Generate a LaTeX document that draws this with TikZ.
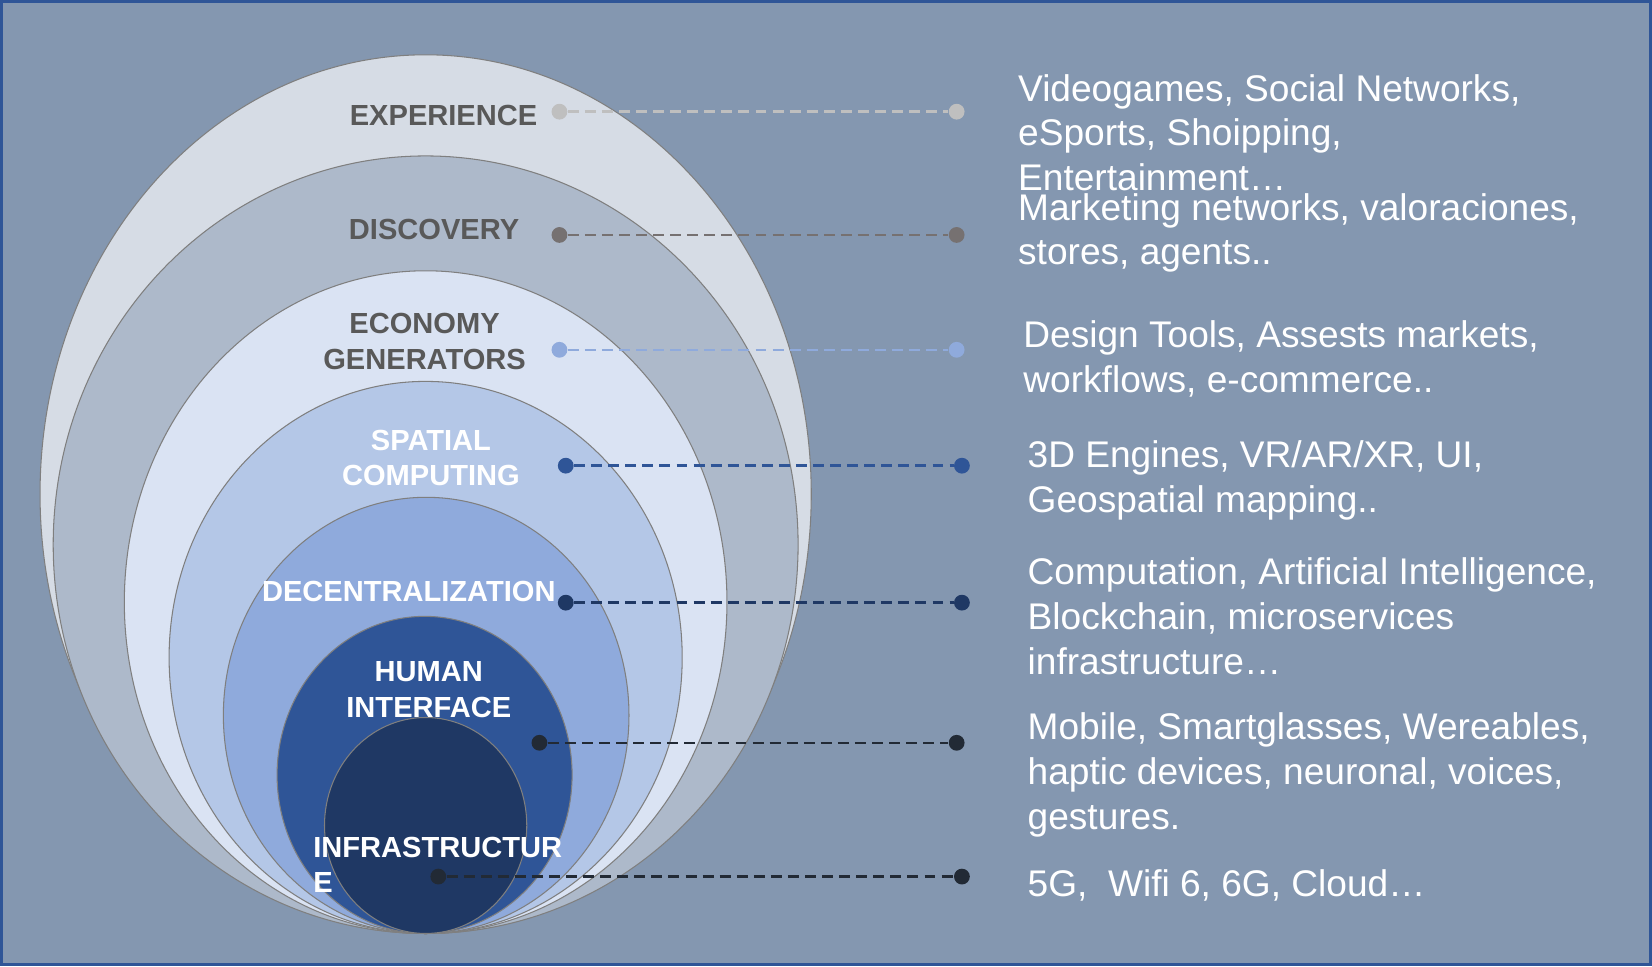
\documentclass[tikz,border=0pt]{standalone}
\usepackage{fontspec}
\setmainfont{Liberation Sans}
\usetikzlibrary{shapes.geometric}
\definecolor{bg}{HTML}{8497B0}
\definecolor{framecol}{HTML}{2F5597}
\definecolor{cA}{HTML}{D6DCE5}
\definecolor{cB}{HTML}{ADB9CA}
\definecolor{cC}{HTML}{DAE3F3}
\definecolor{cD}{HTML}{B4C7E7}
\definecolor{cE}{HTML}{8FAADC}
\definecolor{cF}{HTML}{2F5597}
\definecolor{cG}{HTML}{1F3864}
\definecolor{lbldark}{HTML}{595959}
\definecolor{dExp}{HTML}{BFBFBF}
\definecolor{dDis}{HTML}{767171}
\definecolor{dEco}{HTML}{8FAADC}
\definecolor{dSpa}{HTML}{2F5597}
\definecolor{dDec}{HTML}{1F3864}
\definecolor{dHum}{HTML}{222A35}
\definecolor{ringline}{HTML}{7F7F7F}
\tikzset{
  ring/.style={draw=ringline, line width=0.5pt},
  dot/.style={circle, minimum size=7.5pt, inner sep=0pt, draw=none},
  link/.style={line width=1.15pt, dash pattern=on 5.2pt off 2.9pt},
  lbl/.style={font=\fontsize{13.8pt}{16.75pt}\selectfont\bfseries, align=center, inner sep=0pt},
  desc/.style={font=\fontsize{17.6pt}{21.25pt}\selectfont, text=white, align=left, anchor=north west, inner sep=0pt}
}
\begin{document}
\begin{tikzpicture}[x=0.5pt,y=0.5pt]
\useasboundingbox (0,0) rectangle (1568,-917);
\fill[bg] (0,0) rectangle (1568,-917);
\draw[framecol, line width=1.3pt] (1.3,-1.3) rectangle (1566.7,-915.7);

% nested ellipses
\filldraw[ring, fill=cA] (404,-469) ellipse [x radius=183pt, y radius=208.5pt];
\filldraw[ring, fill=cB] (404,-517) ellipse [x radius=176.75pt, y radius=184.5pt];
\filldraw[ring, fill=cC] (404,-571.5) ellipse [x radius=143pt, y radius=157.25pt];
\filldraw[ring, fill=cD] (404,-624) ellipse [x radius=121.75pt, y radius=131pt];
\filldraw[ring, fill=cE] (404.5,-679) ellipse [x radius=96.25pt, y radius=103.5pt];
\filldraw[ring, fill=cF] (403,-735.5) ellipse [x radius=70pt, y radius=75.25pt];
\filldraw[ring, fill=cG] (404,-783.5) ellipse [x radius=48pt, y radius=51.25pt];

% labels
\node[lbl, text=lbldark] (lExp) at (421,-110) {EXPERIENCE};
\node[lbl, text=lbldark] (lDis) at (412,-218) {DISCOVERY};
\node[lbl, text=lbldark] (lEco) at (403,-324) {ECONOMY\\GENERATORS};
\node[lbl, text=white] (lSpa) at (409,-434.5) {SPATIAL\\COMPUTING};
\node[lbl, text=white] (lDec) at (388,-561) {DECENTRALIZATION};
\node[lbl, text=white] (lHum) at (407,-654.5) {HUMAN\\INTERFACE};
\node[lbl, text=white, align=left, anchor=west] (lInf) at (297,-821) {INFRASTRUCTUR\\E};

% connector dots
\node[dot, fill=dExp] (a1) at (531,-106) {};
\node[dot, fill=dExp] (b1) at (908,-106) {};
\node[dot, fill=dDis] (a2) at (531,-223) {};
\node[dot, fill=dDis] (b2) at (908,-223) {};
\node[dot, fill=dEco] (a3) at (531,-332) {};
\node[dot, fill=dEco] (b3) at (908,-332) {};
\node[dot, fill=dSpa] (a4) at (537,-442) {};
\node[dot, fill=dSpa] (b4) at (913,-442) {};
\node[dot, fill=dDec] (a5) at (537,-572) {};
\node[dot, fill=dDec] (b5) at (913,-572) {};
\node[dot, fill=dHum] (a6) at (512,-705) {};
\node[dot, fill=dHum] (b6) at (908,-705) {};
\node[dot, fill=dHum] (a7) at (416,-832) {};
\node[dot, fill=dHum] (b7) at (913,-832) {};

\draw[link, dExp] (a1) -- (b1);
\draw[link, dDis] (a2) -- (b2);
\draw[link, dEco] (a3) -- (b3);
\draw[link, dSpa] (a4) -- (b4);
\draw[link, dDec] (a5) -- (b5);
\draw[link, dHum] (a6) -- (b6);
\draw[link, dHum] (a7) -- (b7);

% descriptions
\node[desc] (t1) at (966,-70) {Videogames, Social Networks,\\eSports, Shoipping,\\Entertainment\dots};
\node[desc] (t2) at (966,-183) {Marketing networks, valoraciones,\\stores, agents..};
\node[desc] (t3) at (971,-304) {Design Tools, Assests markets,\\workflows, e-commerce..};
\node[desc] (t4) at (975,-418) {3D Engines, VR/AR/XR, UI,\\Geospatial mapping..};
\node[desc] (t5) at (975,-529) {Computation, Artificial Intelligence,\\Blockchain, microservices\\infrastructure\dots};
\node[desc] (t6) at (975,-676) {Mobile, Smartglasses, Wereables,\\haptic devices, neuronal, voices,\\gestures.};
\node[desc] (t7) at (975,-825) {5G,\ \ Wifi 6, 6G, Cloud\dots};
\end{tikzpicture}
\end{document}
